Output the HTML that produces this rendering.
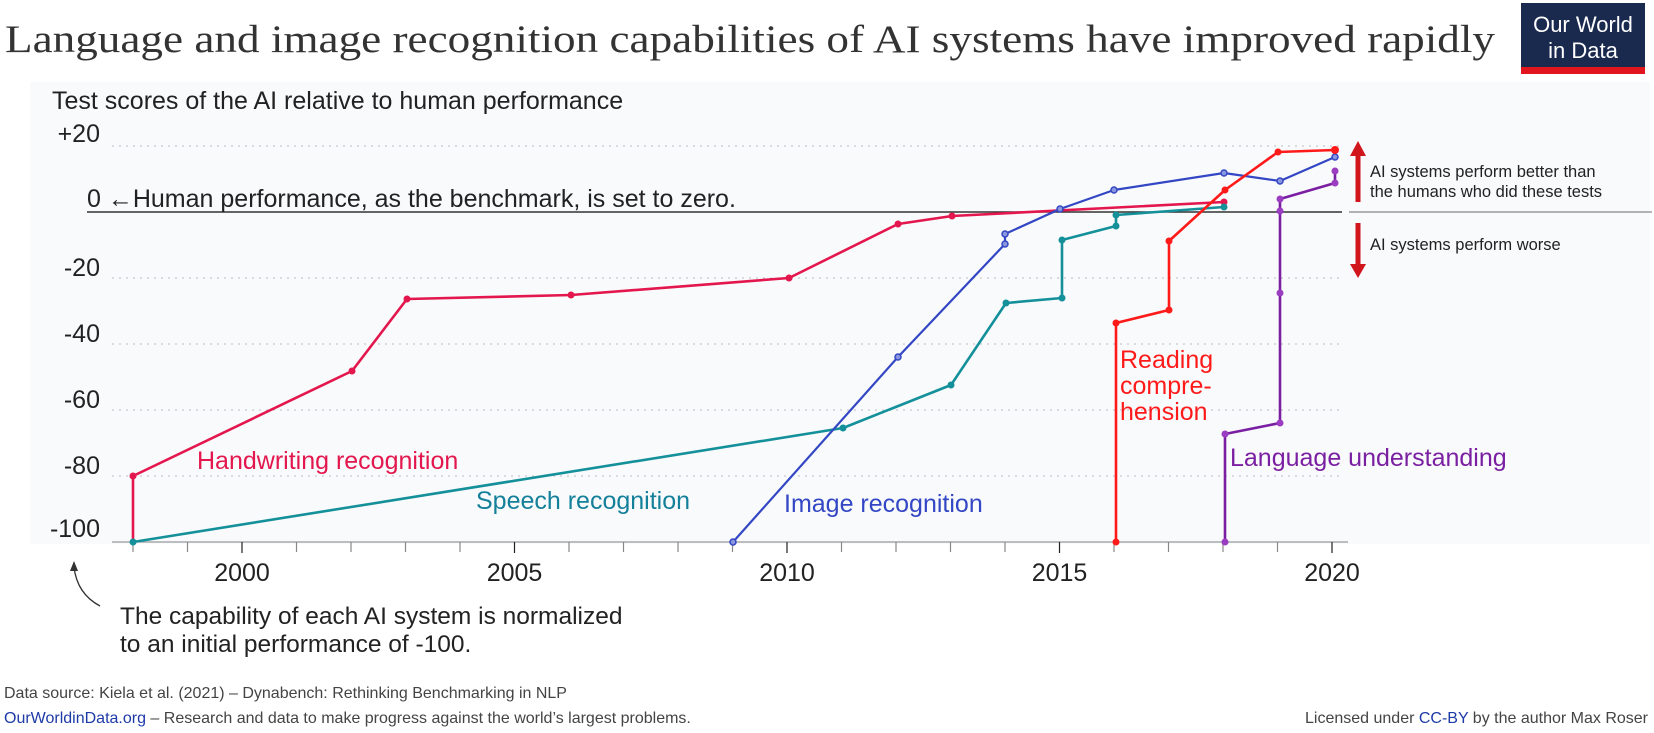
<!DOCTYPE html>
<html><head><meta charset="utf-8"><style>
html,body{margin:0;padding:0;background:#fff;}
svg{display:block;}
text{font-family:"Liberation Sans",sans-serif;}
</style></head><body>
<svg width="1654" height="733" viewBox="0 0 1654 733" xmlns="http://www.w3.org/2000/svg">
<rect x="0" y="0" width="1654" height="733" fill="#fff"/>
<rect x="30" y="82" width="1620" height="462" fill="#f9fafc"/>
<!-- title -->
<text x="5" y="52" font-family="Liberation Serif,serif" font-size="39" fill="#333" textLength="1490" lengthAdjust="spacingAndGlyphs" style="font-family:'Liberation Serif',serif">Language and image recognition capabilities of AI systems have improved rapidly</text>
<!-- logo -->
<rect x="1521" y="3" width="124" height="71" fill="#1a2a4e"/>
<rect x="1521" y="67" width="124" height="7" fill="#e0161c"/>
<text x="1583" y="32" font-size="22" fill="#fff" text-anchor="middle">Our World</text>
<text x="1583" y="58" font-size="22" fill="#fff" text-anchor="middle">in Data</text>
<!-- y axis title -->
<text x="52" y="109" font-size="25" fill="#222">Test scores of the AI relative to human performance</text>
<!-- grid -->
<g stroke="#c8c8d0" stroke-width="1.3" stroke-dasharray="2,5">
<line x1="112" y1="146" x2="1342" y2="146"/>
<line x1="112" y1="278" x2="1342" y2="278"/>
<line x1="112" y1="344" x2="1342" y2="344"/>
<line x1="112" y1="410" x2="1342" y2="410"/>
<line x1="112" y1="476" x2="1342" y2="476"/>
</g>
<g font-size="25" fill="#222" text-anchor="end">
<text x="100" y="142">+20</text>
<text x="100" y="276">-20</text>
<text x="100" y="342">-40</text>
<text x="100" y="408">-60</text>
<text x="100" y="474">-80</text>
<text x="100" y="537">-100</text>
</g>
<!-- zero line -->
<line x1="87" y1="212" x2="1342" y2="212" stroke="#333" stroke-width="1.6"/>
<line x1="1349" y1="212" x2="1652" y2="212" stroke="#888" stroke-width="1.3"/>
<text x="87" y="207" font-size="25" fill="#222">0 ←Human performance, as the benchmark, is set to zero.</text>
<!-- x axis -->
<line x1="112" y1="542" x2="1348" y2="542" stroke="#999" stroke-width="1.3"/>
<g stroke="#777" stroke-width="1.3" id="ticks"></g>
<g stroke="#888" stroke-width="1.2">
<line x1="133" y1="542" x2="133" y2="552"/><line x1="187.5" y1="542" x2="187.5" y2="552"/><line x1="242" y1="542" x2="242" y2="553" stroke="#222"/><line x1="296.5" y1="542" x2="296.5" y2="552"/><line x1="351" y1="542" x2="351" y2="552"/><line x1="405.5" y1="542" x2="405.5" y2="552"/><line x1="460" y1="542" x2="460" y2="552"/><line x1="514.5" y1="542" x2="514.5" y2="553" stroke="#222"/><line x1="569" y1="542" x2="569" y2="552"/><line x1="623.5" y1="542" x2="623.5" y2="552"/><line x1="678" y1="542" x2="678" y2="552"/><line x1="732.5" y1="542" x2="732.5" y2="552"/><line x1="787" y1="542" x2="787" y2="553" stroke="#222"/><line x1="841.5" y1="542" x2="841.5" y2="552"/><line x1="896" y1="542" x2="896" y2="552"/><line x1="950.5" y1="542" x2="950.5" y2="552"/><line x1="1005" y1="542" x2="1005" y2="552"/><line x1="1059.5" y1="542" x2="1059.5" y2="553" stroke="#222"/><line x1="1114" y1="542" x2="1114" y2="552"/><line x1="1168.5" y1="542" x2="1168.5" y2="552"/><line x1="1223" y1="542" x2="1223" y2="552"/><line x1="1277.5" y1="542" x2="1277.5" y2="552"/><line x1="1332" y1="542" x2="1332" y2="553" stroke="#222"/>
</g>
<g font-size="25" fill="#222" text-anchor="middle">
<text x="242" y="581">2000</text><text x="514.5" y="581">2005</text><text x="787" y="581">2010</text><text x="1059.5" y="581">2015</text><text x="1332" y="581">2020</text>
</g>
<!-- series -->
<g fill="none" stroke-width="2.6" stroke-linejoin="round">
<polyline stroke="#e3174d" points="133,542 133,476 352,371 407,299 571,295 789,278 898,224 952,216 1224,202"/>
<polyline stroke="#14909a" points="133,542 843,428 951,385 1006,303 1062,298 1062,240 1116,226 1116,215 1224,207"/>
<polyline stroke="#3347c4" stroke-width="2.2" points="733,542 898,357 1005,244 1005,234 1060,209 1114,190 1224,173 1280,181 1335,157"/>
<polyline stroke="#ff1a1a" points="1116,542 1116,323 1169,310 1169,241 1225,190 1278,152 1335,150"/>
<polyline stroke="#7a1fa2" points="1225,542 1225,434 1280,423 1280,293 1280,211 1280,199 1335,183 1335,171"/>
</g>
<g stroke-width="1.5">
<g fill="#e3174d"><circle cx="133" cy="476" r="3.5"/><circle cx="352" cy="371" r="3.5"/><circle cx="407" cy="299" r="3.5"/><circle cx="571" cy="295" r="3.5"/><circle cx="789" cy="278" r="3.5"/><circle cx="898" cy="224" r="3.5"/><circle cx="952" cy="216" r="3.5"/><circle cx="1224" cy="202" r="3.5"/></g>
<g fill="#14909a"><circle cx="133" cy="542" r="3.5"/><circle cx="843" cy="428" r="3.5"/><circle cx="951" cy="385" r="3.5"/><circle cx="1006" cy="303" r="3.5"/><circle cx="1062" cy="298" r="3.5"/><circle cx="1062" cy="240" r="3.5"/><circle cx="1116" cy="226" r="3.5"/><circle cx="1116" cy="215" r="3.5"/><circle cx="1224" cy="207" r="3.5"/></g>
<g fill="#8a96dd" stroke="#3347c4"><circle cx="733" cy="542" r="3"/><circle cx="898" cy="357" r="3"/><circle cx="1005" cy="244" r="3"/><circle cx="1005" cy="234" r="3"/><circle cx="1060" cy="209" r="3"/><circle cx="1114" cy="190" r="3"/><circle cx="1224" cy="173" r="3"/><circle cx="1280" cy="181" r="3"/><circle cx="1335" cy="157" r="3"/></g>
<g fill="#ff1a1a"><circle cx="1116" cy="542" r="3.5"/><circle cx="1116" cy="323" r="3.5"/><circle cx="1169" cy="310" r="3.5"/><circle cx="1169" cy="241" r="3.5"/><circle cx="1225" cy="190" r="3.5"/><circle cx="1278" cy="152" r="3.5"/><circle cx="1335" cy="150" r="4"/></g>
<g fill="#9a3dc0"><circle cx="1225" cy="542" r="3.5"/><circle cx="1225" cy="434" r="3.5"/><circle cx="1280" cy="423" r="3.5"/><circle cx="1280" cy="293" r="3.5"/><circle cx="1280" cy="211" r="3.5"/><circle cx="1280" cy="199" r="3.5"/><circle cx="1335" cy="183" r="3.5"/><circle cx="1335" cy="171" r="3.5"/></g>
</g>
<!-- series labels -->
<g font-size="25">
<text x="197" y="469" fill="#e3174d">Handwriting recognition</text>
<text x="476" y="509" fill="#14809a">Speech recognition</text>
<text x="784" y="512" fill="#3347c4">Image recognition</text>
<text x="1120" y="368" fill="#ff1a1a">Reading</text>
<text x="1120" y="394" fill="#ff1a1a">compre-</text>
<text x="1120" y="420" fill="#ff1a1a">hension</text>
<text x="1230" y="466" fill="#7a1fa2">Language understanding</text>
</g>
<!-- right annotations -->
<g fill="#d0151b" stroke="none">
<rect x="1355.5" y="152" width="5" height="50"/>
<polygon points="1350,156 1358,141 1366,156"/>
<rect x="1355.5" y="223" width="5" height="45"/>
<polygon points="1350,264 1358,278 1366,264"/>
</g>
<g font-size="16.5" fill="#222">
<text x="1370" y="177">AI systems perform better than</text>
<text x="1370" y="197">the humans who did these tests</text>
<text x="1370" y="250">AI systems perform worse</text>
</g>
<!-- bottom annotation -->
<path d="M100,606 C85,598 76,585 74,567" fill="none" stroke="#333" stroke-width="1.3"/>
<polygon points="74,561 70,571 78,571" fill="#333"/>
<g font-size="24.5" fill="#222">
<text x="120" y="624">The capability of each AI system is normalized</text>
<text x="120" y="652">to an initial performance of -100.</text>
</g>
<g font-size="16" fill="#444">
<text x="4" y="698">Data source: Kiela et al. (2021) – Dynabench: Rethinking Benchmarking in NLP</text>
<text x="4" y="723"><tspan fill="#1e3aa8">OurWorldinData.org</tspan> – Research and data to make progress against the world’s largest problems.</text>
<text x="1648" y="723" text-anchor="end">Licensed under <tspan fill="#1e3aa8">CC-BY</tspan> by the author Max Roser</text>
</g>
</svg>
</body></html>
